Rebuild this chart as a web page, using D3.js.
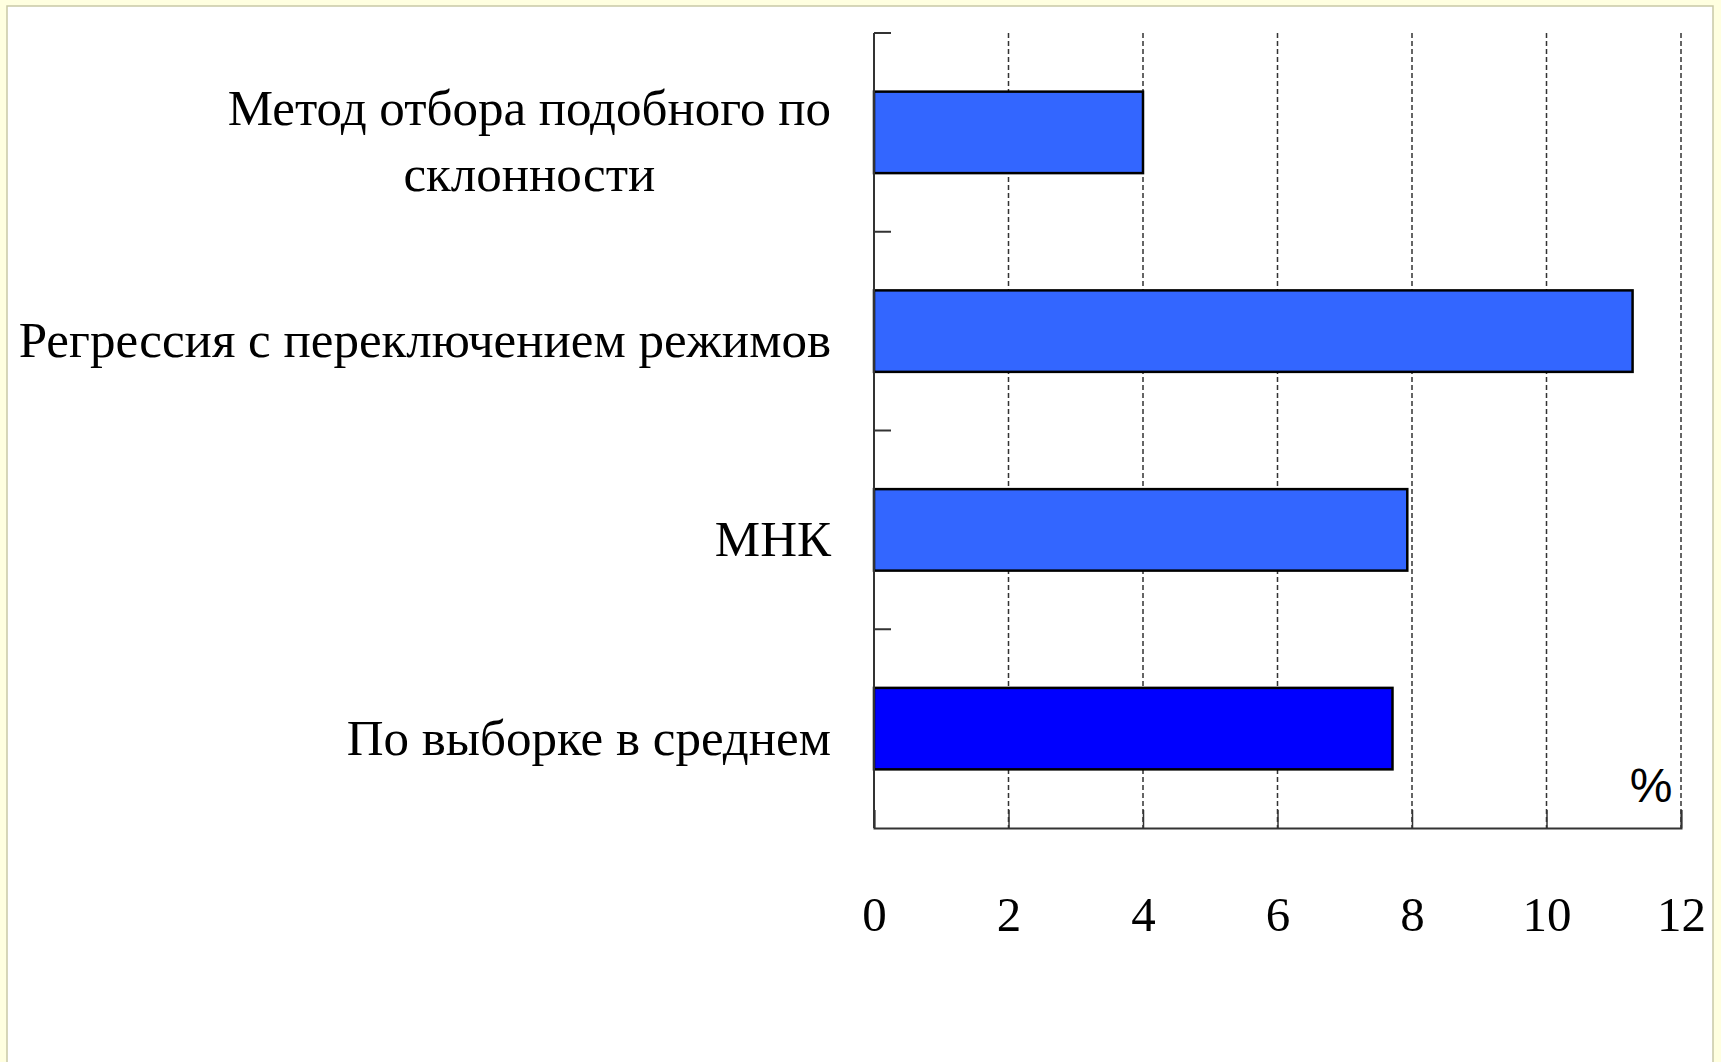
<!DOCTYPE html>
<html>
<head>
<meta charset="utf-8">
<script src="https://cdn.jsdelivr.net/npm/d3@7/dist/d3.min.js"></script>
<style>
  html, body { margin: 0; padding: 0; background: #ffffe0; overflow: hidden; }
  svg { display: block; }
</style>
</head>
<body>
<svg id="chart" width="1721" height="1062"></svg>
<script>
// ---- data (top to bottom) ----
const categories = [
  ["Метод отбора подобного по", "склонности"],
  ["Регрессия с переключением режимов"],
  ["МНК"],
  ["По выборке в среднем"]
];
const values = [4.0, 11.28, 7.93, 7.71];
const barColors = ["#3366ff", "#3366ff", "#3366ff", "#0000ff"];
const xTicks = [0, 2, 4, 6, 8, 10, 12];
const unitLabel = "%";

// ---- layout ----
const svg = d3.select("#chart");
const W = 1721, H = 1062;
const plotLeft = 874, plotRight = 1681, plotTop = 33, plotBottom = 828;
const font = "'Liberation Serif', 'Times New Roman', serif";

// white panel with thin frame
svg.append("rect").attr("x", 7).attr("y", 6).attr("width", 1706).attr("height", H)
  .attr("fill", "#ffffff").attr("stroke", "#c9c9a6").attr("stroke-width", 1.5);

const x = d3.scaleLinear().domain([0, 12]).range([plotLeft, plotRight]);
const y = d3.scaleBand().domain(d3.range(categories.length)).range([plotTop, plotBottom])
  .paddingInner(0.59).paddingOuter(0.295);
const step = y.step();

// gridlines (dashed)
svg.append("g").selectAll("line").data(xTicks.filter(t => t > 0)).join("line")
  .attr("x1", d => x(d)).attr("x2", d => x(d))
  .attr("y1", plotTop).attr("y2", plotBottom)
  .attr("stroke", "#333").attr("stroke-width", 1.5)
  .attr("stroke-dasharray", "5,3");

// bars
svg.append("g").selectAll("rect").data(values).join("rect")
  .attr("x", x(0)).attr("y", (d, i) => y(i))
  .attr("width", d => x(d) - x(0)).attr("height", y.bandwidth())
  .attr("fill", (d, i) => barColors[i])
  .attr("stroke", "#000").attr("stroke-width", 2.5);

// x axis with inward ticks
const xAxis = d3.axisBottom(x).tickValues(xTicks).tickSize(-18).tickPadding(68)
  .tickFormat(d3.format("d"));
const gx = svg.append("g").attr("transform", `translate(0,${plotBottom})`).call(xAxis);
gx.select(".domain").attr("stroke", "#333").attr("stroke-width", 2);
gx.selectAll(".tick line").attr("stroke", "#333").attr("stroke-width", 1.5);
gx.selectAll(".tick text").attr("font-family", font).attr("font-size", 49)
  .attr("fill", "#000");

// y axis line with boundary ticks
svg.append("line").attr("x1", plotLeft).attr("x2", plotLeft).attr("y1", plotTop).attr("y2", plotBottom)
  .attr("stroke", "#333").attr("stroke-width", 2);
svg.append("g").selectAll("line").data(d3.range(categories.length)).join("line")
  .attr("x1", plotLeft).attr("x2", plotLeft + 17)
  .attr("y1", i => plotTop + i * step).attr("y2", i => plotTop + i * step)
  .attr("stroke", "#333").attr("stroke-width", 2);

// category labels
const labelRight = 831;
const lineGap = 66;
const lab = svg.append("g").attr("font-family", font).attr("font-size", 51).attr("fill", "#000");
categories.forEach((lines, i) => {
  const c = y(i) + y.bandwidth() / 2;
  const n = lines.length;
  if (n === 1) {
    lab.append("text").attr("x", labelRight).attr("y", c + 26)
      .attr("text-anchor", "end").text(lines[0]);
  } else {
    const g = lab.append("g");
    const texts = lines.map((t, k) => g.append("text")
      .attr("y", c + 26 + (k - (n - 1) / 2) * lineGap)
      .attr("text-anchor", "middle").text(t));
    const maxW = d3.max(texts, t => t.node().getComputedTextLength());
    texts.forEach(t => t.attr("x", labelRight - maxW / 2));
  }
});

// unit label
svg.append("text").attr("x", 1651).attr("y", 802).attr("text-anchor", "middle")
  .attr("font-family", "'Liberation Sans', Arial, sans-serif").attr("font-size", 48)
  .attr("fill", "#000").text(unitLabel);
</script>
</body>
</html>
